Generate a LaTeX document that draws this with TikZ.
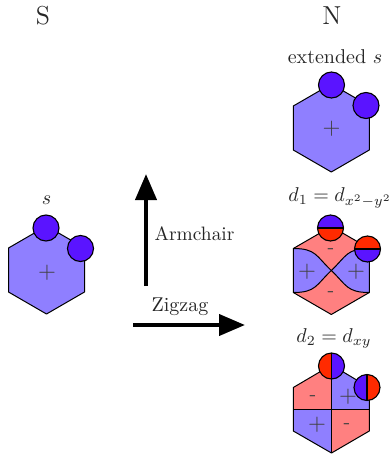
\documentclass[tikz,border=0pt]{standalone}
\usetikzlibrary{arrows.meta}
\definecolor{lobeblue}{HTML}{8F7FFF}
\definecolor{lobered}{HTML}{FF8080}
\definecolor{orbblue}{HTML}{5A14FF}
\definecolor{orbred}{HTML}{FF2A00}
\tikzset{
  hexline/.style={draw=black,line width=0.5pt,line join=round},
  orb/.style={draw=black,line width=0.55pt},
  bigarrow/.style={line width=2pt,-{Triangle[length=13pt,width=10.5pt]}},
  lbl/.style={inner sep=0pt,text=black!85},
  sign/.style={inner sep=0pt,text=black!75},
  plussign/.style={inner sep=0pt,text=black!75,scale=1.15}
}
% hexagon path centred at (#1,#2)
\newcommand{\hexpath}[2]{(#1,#2-44) -- (#1+38,#2-22) -- (#1+38,#2+22) -- (#1,#2+44) -- (#1-38,#2+22) -- (#1-38,#2-22) -- cycle}
\newcommand{\orbfull}[2]{\fill[orbblue] (#1,#2) circle (13); \draw[orb] (#1,#2) circle (13);}
% split orbitals: centre x, centre y, first colour, second colour
\newcommand{\orbhoriz}[4]{%
  \fill[#3] (#1-13,#2) arc (180:360:13) -- cycle;
  \fill[#4] (#1-13,#2) arc (180:0:13) -- cycle;
  \draw[orb] (#1,#2) circle (13);
  \draw[orb] (#1-13,#2) -- (#1+13,#2);}
\newcommand{\orbvert}[4]{%
  \fill[#3] (#1,#2-13) arc (270:90:13) -- cycle;
  \fill[#4] (#1,#2-13) arc (270:450:13) -- cycle;
  \draw[orb] (#1,#2) circle (13);
  \draw[orb] (#1,#2-13) -- (#1,#2+13);}
\begin{document}
\begin{tikzpicture}[x=0.5pt,y=-0.5pt]
\useasboundingbox (0,0) rectangle (390,455);
% column heads
\node[lbl,font=\fontsize{13}{15}\selectfont] (headS) at (43,16) {S};
\node[lbl,font=\fontsize{13}{15}\selectfont] (headN) at (332,16) {N};
% S orbital
\node[lbl] (labS) at (46.5,200) {$s$};
\fill[lobeblue] \hexpath{46.5}{270};
\draw[hexline] \hexpath{46.5}{270};
\node[plussign] (plusS) at (47,273) {$+$};
\orbfull{46}{228}
\orbfull{80.5}{248.5}
% extended s
\node[lbl] (labE) at (335,57) {extended $s$};
\fill[lobeblue] \hexpath{331.3}{128};
\draw[hexline] \hexpath{331.3}{128};
\node[plussign] (plusE) at (331.5,129) {$+$};
\orbfull{331.5}{85}
\orbfull{366}{105.5}
% d1
\node[lbl] (labD) at (340,198) {$d_1=d_{x^2-y^2}$};
\fill[lobered] \hexpath{331.3}{270.5};
\fill[lobeblue] (293.3,248.5) .. controls (316,248.5) and (316,256) .. (331.3,270.5) .. controls (316,285) and (316,292.5) .. (293.3,292.5) -- cycle;
\fill[lobeblue] (369.3,248.5) .. controls (346.6,248.5) and (346.6,256) .. (331.3,270.5) .. controls (346.6,285) and (346.6,292.5) .. (369.3,292.5) -- cycle;
\draw[hexline] (293.3,248.5) .. controls (316,248.5) and (316,256) .. (331.3,270.5) .. controls (346.6,285) and (346.6,292.5) .. (369.3,292.5);
\draw[hexline] (369.3,248.5) .. controls (346.6,248.5) and (346.6,256) .. (331.3,270.5) .. controls (316,285) and (316,292.5) .. (293.3,292.5);
\draw[hexline] \hexpath{331.3}{270.5};
\node[plussign] (d1a) at (307,272) {$+$};
\node[plussign] (d1b) at (356,272) {$+$};
\node[sign] (d1c) at (331,251) {-};
\node[sign] (d1d) at (331,294.5) {-};
\orbhoriz{330.5}{228}{orbblue}{orbred}
\orbhoriz{367.5}{249}{orbred}{orbblue}
% d2
\node[lbl] (labF) at (334,338) {$d_2=d_{xy}$};
\fill[lobered] (331.5,409) -- (331.5,365) -- (293.3,387.5) -- (293.3,409) -- cycle;
\fill[lobeblue] (331.5,409) -- (331.5,365) -- (369.3,387.5) -- (369.3,409) -- cycle;
\fill[lobeblue] (331.5,409) -- (331.5,453) -- (293.3,431) -- (293.3,409) -- cycle;
\fill[lobered] (331.5,409) -- (331.5,453) -- (369.3,431) -- (369.3,409) -- cycle;
\draw[hexline] (331.5,365) -- (369.3,387.5) -- (369.3,431) -- (331.5,453) -- (293.3,431) -- (293.3,387.5) -- cycle;
\draw[hexline] (293.3,409) -- (369.3,409) (331.5,365) -- (331.5,453);
\node[sign] (d2a) at (313,398) {-};
\node[plussign] (d2b) at (348,397) {$+$};
\node[plussign] (d2c) at (317,425) {$+$};
\node[sign] (d2d) at (347,426) {-};
\orbvert{331.5}{366}{orbred}{orbblue}
\orbvert{367}{387.5}{orbblue}{orbred}
% arrows
\coordinate (armS) at (146,286);
\coordinate (armE) at (146,174);
\coordinate (zigS) at (133,325);
\coordinate (zigE) at (245,325);
\draw[bigarrow] (armS) -- (armE);
\draw[bigarrow] (zigS) -- (zigE);
\node[lbl,scale=0.97] (arm) at (194.5,234) {Armchair};
\node[lbl] (zig) at (180,307) {Zigzag};
\end{tikzpicture}
\end{document}
